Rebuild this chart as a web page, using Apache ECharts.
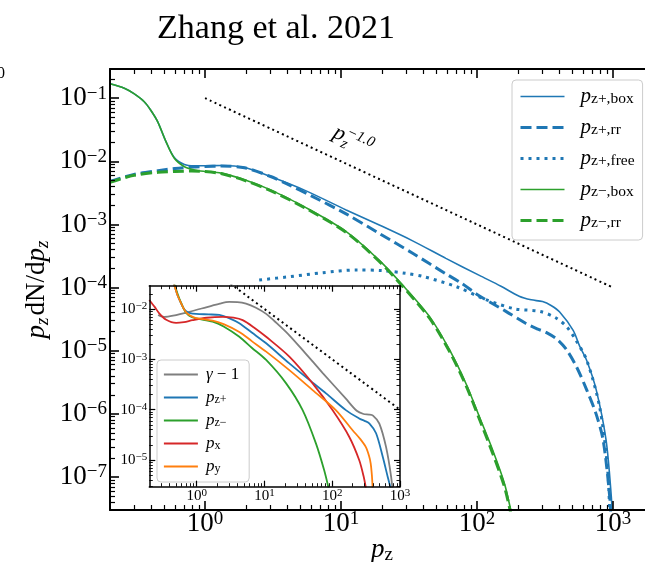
<!DOCTYPE html>
<html>
<head>
<meta charset="utf-8">
<script src="https://cdn.jsdelivr.net/npm/echarts@6/dist/echarts.min.js"></script>
<style>
html, body { margin: 0; padding: 0; background: #fff; }
#chart { width: 645px; height: 562px; }
</style>
</head>
<body>
<div id="chart"></div>
<script>
// values, [p_z, p_z dN/dp_z]
const pzPlusBox = [[0.2,0.169],[0.255,0.144],[0.3,0.118],[0.357,0.088],[0.4,0.064],[0.448,0.0426],[0.516,0.0205],[0.594,0.0115],[0.705,0.0089],[0.834,0.0085],[1.0,0.0085],[1.31,0.0086],[1.95,0.0080],[3.06,0.0057],[5.38,0.0035],[10.9,0.0017],[19.1,0.00098],[33.6,0.00055],[59,0.00029],[104,0.000156],[150,0.000105],[204,0.000073],[250,0.000064],[303,0.000060],[350,0.000052],[405,0.000041],[509,0.000021],[568,0.0000118],[640,0.000007],[752,0.0000024],[889,0.00000038],[970,0.00000005],[990,0.00000002]];
const pzPlusRr = [[0.2,0.0048],[0.3,0.0062],[0.45,0.0071],[0.6,0.0077],[0.8,0.0081],[1.0,0.0083],[1.31,0.0084],[1.95,0.0079],[3.0,0.0058],[4.0,0.0044],[6.2,0.00276],[10.9,0.00147],[19.1,0.00072],[33.6,0.00035],[59,0.000165],[78,0.000115],[100,0.000078],[163,0.000042],[229,0.000027],[280,0.000022],[322,0.0000195],[390,0.000015],[456,0.0000103],[540,0.0000055],[640,0.0000024],[750,0.000001],[846,0.00000038],[944,0.00000005],[965,0.00000002]];
const pzPlusFree = [[2.5,0.000132],[4.2,0.000149],[7.3,0.000172],[12.9,0.00019],[20,0.000186],[30,0.000168],[40,0.00015],[70,0.000104],[115,0.000065],[190,0.000046],[290,0.000042],[381,0.000033],[456,0.000024],[530,0.000015],[640,0.0000071],[796,0.0000013],[909,0.000000145],[950,0.00000002]];
const pzMinusBox = [[0.2,0.169],[0.255,0.144],[0.3,0.118],[0.357,0.088],[0.4,0.064],[0.448,0.0426],[0.516,0.0205],[0.594,0.0112],[0.705,0.0082],[0.834,0.0073],[1.0,0.0069],[1.31,0.0065],[1.95,0.0051],[3.06,0.0035],[5.38,0.0019],[10.9,0.00077],[19.1,0.00027],[27.6,0.000117],[44.6,0.000035],[62.8,0.0000103],[83,0.000003],[104,0.0000009],[130,0.00000027],[159,0.000000079],[180,0.000000025]];
const pzMinusRr = [[0.2,0.00467],[0.3,0.006],[0.45,0.0067],[0.6,0.0069],[0.8,0.007],[1.0,0.0069],[1.31,0.0064],[1.95,0.005],[3.06,0.0034],[5.38,0.00185],[10.9,0.00075],[19.1,0.00026],[27.6,0.000112],[44.6,0.000033],[62.8,0.0000097],[83,0.0000028],[104,0.00000083],[130,0.00000024],[159,0.00000007],[178,0.000000025]];
const powerLaw = [[1,0.1],[1000,0.0001]];

// inset
const insetGamma = [[0.27,0.0076],[0.3,0.0071],[0.334,0.007],[0.45,0.0074],[0.78,0.0088],[1.38,0.0108],[2.2,0.0128],[3.03,0.0138],[4.0,0.0137],[5.35,0.0128],[7.5,0.0106],[10.6,0.008],[15,0.0053],[23.3,0.003],[40,0.00133],[72,0.00054],[159,0.000165],[230,0.000095],[290,0.000082],[350,0.00008],[400,0.000076],[496,0.000053],[624,0.000018],[740,0.0000047],[790,0.000002]];
const insetPzPlus = [[0.42,0.045],[0.47,0.029],[0.52,0.019],[0.58,0.0135],[0.64,0.0104],[0.7,0.009],[0.8,0.0083],[0.98,0.008],[1.5,0.0078],[2.16,0.0076],[3.0,0.0066],[4.26,0.0052],[6.5,0.0034],[10.6,0.00208],[23.3,0.00083],[45.9,0.00039],[81,0.000211],[159,0.000098],[250,0.000067],[300,0.00006],[355,0.000053],[444,0.000034],[557,0.0000116],[660,0.0000046],[740,0.0000025],[780,0.0000015]];
const insetPzMinus = [[0.44,0.045],[0.48,0.029],[0.53,0.019],[0.59,0.0132],[0.65,0.0098],[0.7,0.0084],[0.8,0.0072],[0.98,0.0065],[1.72,0.0056],[2.5,0.0045],[4.26,0.0028],[6.5,0.0017],[10.6,0.00097],[20.9,0.000333],[36.6,0.000098],[57.5,0.0000214],[76,0.0000063],[90,0.0000025]];
const insetPx = [[0.2,0.0151],[0.24,0.011],[0.28,0.0082],[0.35,0.0062],[0.497,0.0053],[0.65,0.0055],[0.87,0.006],[1.4,0.0067],[2.42,0.007],[3.5,0.0067],[4.77,0.006],[7,0.0043],[10.6,0.0028],[23.3,0.00113],[51.4,0.000333],[101,0.000098],[178,0.000029],[250,0.00001],[290,0.0000048],[314,0.0000028]];
const insetPy = [[0.42,0.045],[0.47,0.029],[0.52,0.019],[0.58,0.0136],[0.64,0.0103],[0.7,0.0086],[0.8,0.0074],[0.98,0.0066],[1.72,0.0059],[2.5,0.005],[4.26,0.0035],[6.5,0.0023],[10.6,0.00142],[23.3,0.00061],[51.4,0.000245],[113,0.000098],[200,0.000039],[260,0.000026],[314,0.000018],[350,0.000012],[370,0.0000085],[385,0.000005],[395,0.0000028]];
const insetPowerLaw = [[1,0.1],[1000,0.0001]];

// axis ranges and major ticks
const mainXRange = [0.2, 2000];
const mainYRange = [3e-8, 0.29];
const insetXRange = [0.2, 1001];
const insetYRange = [2.95e-6, 0.029];
const mainXMajor = [1, 10, 100, 1000];
const mainYMajor = [1e-7, 1e-6, 1e-5, 1e-4, 1e-3, 1e-2, 1e-1];
const insetXMajor = [1, 10, 100, 1000];
const insetYMajor = [1e-5, 1e-4, 1e-3, 1e-2];

const SERIF = 'Liberation Serif';
const BLUE = '#1f77b4', GREEN = '#2ca02c', RED = '#d62728', ORANGE = '#ff7f0e', GRAY = '#7f7f7f';

function minorTicks(range) {
  const out = [];
  for (let e = Math.floor(Math.log10(range[0])); e <= Math.ceil(Math.log10(range[1])); e++) {
    for (let k = 2; k <= 9; k++) {
      const v = k * Math.pow(10, e);
      if (v > range[0] * 1.001 && v < range[1] * 0.999) out.push(v);
    }
  }
  return out;
}

function powLabel(v) {
  const e = Math.round(Math.log10(v));
  return '{b|10}{s|' + (e < 0 ? '\u2212' + (-e) : e) + '}';
}

function labelRich(big, small, lh, slh) {
  return {
    b: { fontFamily: SERIF, fontSize: big, lineHeight: lh, color: '#000' },
    s: { fontFamily: SERIF, fontSize: small, lineHeight: slh, verticalAlign: 'top', color: '#000' }
  };
}

// two axes per side: one for major ticks (+frame, labels), one for minor ticks
function sideAxes(gridIndex, pos, range, majors, st, label) {
  const common = {
    type: 'log', gridIndex: gridIndex, position: pos, min: range[0], max: range[1],
    splitLine: { show: false }, minorTick: { show: false }, minorSplitLine: { show: false },
    nameMoveOverlap: false
  };
  const major = Object.assign({}, common, {
    z: 5,
    axisLine: { show: true, lineStyle: { color: '#000', width: st.frame } },
    axisTick: { show: true, inside: true, length: st.majLen, customValues: majors, lineStyle: { color: '#000', width: st.majW } },
    axisLabel: label ? Object.assign({ show: true, customValues: majors, formatter: powLabel }, label) : { show: false }
  });
  const minor = Object.assign({}, common, {
    z: 5,
    axisLine: { show: false },
    axisTick: { show: true, inside: true, length: st.minLen, customValues: minorTicks(range), lineStyle: { color: '#000', width: st.minW } },
    axisLabel: { show: false }
  });
  return [major, minor];
}

const mainSt = { frame: 2, majLen: 9, majW: 1.6, minLen: 5, minW: 1.2 };
const insetSt = { frame: 1.5, majLen: 6, majW: 1.2, minLen: 3.5, minW: 0.9 };

const mainXLabel = { margin: 0, rich: labelRich(27, 19, 28, 17) };
const mainYLabel = { margin: 3, rich: labelRich(27, 19, 28, 17) };
const insetXLabel = { margin: 1, rich: labelRich(15, 11, 16, 10) };
const insetYLabel = { margin: 2, rich: labelRich(15, 11, 16, 10) };

const xAxes = [].concat(
  sideAxes(0, 'bottom', mainXRange, mainXMajor, mainSt, mainXLabel),
  sideAxes(0, 'top', mainXRange, mainXMajor, mainSt, null),
  sideAxes(1, 'bottom', insetXRange, insetXMajor, insetSt, insetXLabel),
  sideAxes(1, 'top', insetXRange, insetXMajor, insetSt, null)
);
const yAxes = [].concat(
  sideAxes(0, 'left', mainYRange, mainYMajor, mainSt, mainYLabel),
  sideAxes(0, 'right', mainYRange, mainYMajor, mainSt, null),
  sideAxes(1, 'left', insetYRange, insetYMajor, insetSt, insetYLabel),
  sideAxes(1, 'right', insetYRange, insetYMajor, insetSt, null)
);

// axis titles
Object.assign(xAxes[0], {
  name: '{i|p}{s|z}', nameLocation: 'middle', nameGap: 25,
  nameTextStyle: {
    rich: {
      i: { fontFamily: SERIF, fontStyle: 'italic', fontSize: 27, lineHeight: 30, color: '#000' },
      s: { fontFamily: SERIF, fontSize: 19, lineHeight: 14, verticalAlign: 'bottom', color: '#000' }
    }
  }
});
Object.assign(yAxes[0], {
  name: '{i|p}{s|z}{r|dN/d}{i|p}{t|z}', nameLocation: 'middle', nameGap: 58, nameRotate: 90,
  nameTextStyle: {
    rich: {
      i: { fontFamily: SERIF, fontStyle: 'italic', fontSize: 27, lineHeight: 30, color: '#000' },
      r: { fontFamily: SERIF, fontSize: 27, lineHeight: 30, color: '#000', padding: [0, 0, 0, 2] },
      s: { fontFamily: SERIF, fontStyle: 'italic', fontSize: 19, lineHeight: 14, verticalAlign: 'bottom', color: '#000' },
      t: { fontFamily: SERIF, fontStyle: 'italic', fontSize: 19, lineHeight: 14, verticalAlign: 'bottom', color: '#000' }
    }
  }
});

function line(name, data, color, width, type, xi, yi) {
  return {
    type: 'line', name: name, data: data, xAxisIndex: xi, yAxisIndex: yi,
    symbol: 'none', smooth: 0.3, silent: true, animation: false,
    lineStyle: { color: color, width: width, type: type, cap: 'butt' },
    itemStyle: { color: color }
  };
}

const DASH = [11, 5], DOT = [3, 5], FINE = [2, 3.3];

const series = [
  line('pz+,box', pzPlusBox, BLUE, 1.6, 'solid', 0, 0),
  line('pz+,rr', pzPlusRr, BLUE, 3, DASH, 0, 0),
  line('pz+,free', pzPlusFree, BLUE, 3, DOT, 0, 0),
  line('pz-,box', pzMinusBox, GREEN, 1.6, 'solid', 0, 0),
  line('pz-,rr', pzMinusRr, GREEN, 3, DASH, 0, 0),
  line('powerlaw', powerLaw, '#000', 2, FINE, 0, 0),
  line('gamma-1', insetGamma, GRAY, 1.8, 'solid', 4, 4),
  line('ipz+', insetPzPlus, BLUE, 1.8, 'solid', 4, 4),
  line('ipz-', insetPzMinus, GREEN, 1.8, 'solid', 4, 4),
  line('ipx', insetPx, RED, 1.8, 'solid', 4, 4),
  line('ipy', insetPy, ORANGE, 1.8, 'solid', 4, 4),
  line('ipowerlaw', insetPowerLaw, '#000', 2, FINE, 4, 4)
];

const legendText = {
  'pz+,box': '{i|p}{s|z+,box}',
  'pz+,rr': '{i|p}{s|z+,rr}',
  'pz+,free': '{i|p}{s|z+,free}',
  'pz-,box': '{i|p}{s|z\u2212,box}',
  'pz-,rr': '{i|p}{s|z\u2212,rr}',
  'gamma-1': '{i|\u03b3}{r| \u2212 1}',
  'ipz+': '{i|p}{s|z+}',
  'ipz-': '{i|p}{s|z\u2212}',
  'ipx': '{i|p}{s|x}',
  'ipy': '{i|p}{s|y}'
};

function legendRich(big, small, lh, slh) {
  return {
    i: { fontFamily: SERIF, fontStyle: 'italic', fontSize: big, lineHeight: lh, color: '#000' },
    r: { fontFamily: SERIF, fontSize: big, lineHeight: lh, color: '#000' },
    s: { fontFamily: SERIF, fontSize: small, lineHeight: slh, verticalAlign: 'bottom', color: '#000' }
  };
}

const chart = echarts.init(document.getElementById('chart'), null, { renderer: 'canvas' });
chart.setOption({
  animation: false,
  backgroundColor: '#fff',
  grid: [
    { left: 110, top: 69, width: 544, height: 441, containLabel: false, outerBoundsMode: 'none' },
    { left: 149.3, top: 285.7, width: 250.7, height: 201, containLabel: false, outerBoundsMode: 'none',
      show: true, backgroundColor: '#fff', borderWidth: 0 }
  ],
  xAxis: xAxes,
  yAxis: yAxes,
  legend: [
    {
      data: ['pz+,box', 'pz+,rr', 'pz+,free', 'pz-,box', 'pz-,rr'],
      orient: 'vertical', left: 512, top: 80,
      itemWidth: 44, itemHeight: 14, itemGap: 10,
      padding: [6, 8, 9, 7],
      backgroundColor: 'rgba(255,255,255,0.8)', borderColor: '#cccccc', borderWidth: 1, borderRadius: 4,
      selectedMode: false,
      itemStyle: { opacity: 0 },
      lineStyle: { width: 'inherit' },
      textStyle: { fontFamily: SERIF, fontSize: 21, color: '#000', padding: [0, 0, 0, 11], rich: legendRich(21, 15.5, 20, 10) },
      formatter: function (n) { return legendText[n]; }
    },
    {
      data: ['gamma-1', 'ipz+', 'ipz-', 'ipx', 'ipy'],
      orient: 'vertical', left: 157, top: 360,
      itemWidth: 34, itemHeight: 12, itemGap: 6,
      padding: [6, 10, 7, 6],
      backgroundColor: 'rgba(255,255,255,0.8)', borderColor: '#cccccc', borderWidth: 1, borderRadius: 4,
      selectedMode: false,
      itemStyle: { opacity: 0 },
      lineStyle: { width: 'inherit' },
      textStyle: { fontFamily: SERIF, fontSize: 17, color: '#000', padding: [0, 0, 0, 3], rich: legendRich(17, 12, 16, 8) },
      formatter: function (n) { return legendText[n]; }
    }
  ],
  graphic: [
    { type: 'text', x: 276, y: 29, style: { text: 'Zhang et al. 2021', font: '34px "Liberation Serif"', fill: '#000', align: 'center', verticalAlign: 'middle' } },
    { type: 'text', x: -3, y: 66, style: { text: '0', font: '16px "Liberation Serif"', fill: '#000', align: 'left', verticalAlign: 'top' } },
    {
      type: 'group', x: 332, y: 137, rotation: -0.43,
      children: [
        { type: 'text', x: 0, y: 5, style: { text: 'p', font: 'italic 22px "Liberation Serif"', fill: '#000', align: 'left', verticalAlign: 'bottom' } },
        { type: 'text', x: 11, y: 9, style: { text: 'z', font: 'italic 15px "Liberation Serif"', fill: '#000', align: 'left', verticalAlign: 'bottom' } },
        { type: 'text', x: 12, y: -4, style: { text: '\u22121.0', font: 'italic 15px "Liberation Serif"', fill: '#000', align: 'left', verticalAlign: 'bottom' } }
      ]
    }
  ],
  series: series
});
</script>
</body>
</html>
